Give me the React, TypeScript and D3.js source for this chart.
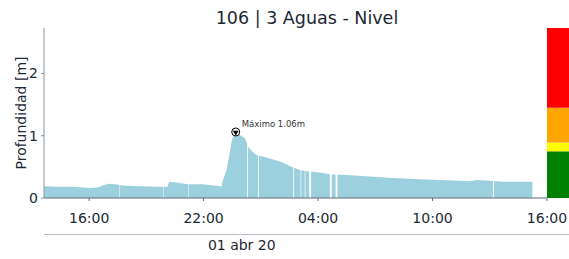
import React from "react";
import * as d3 from "d3";

const title = "106 | 3 Aguas - Nivel";
const yLabel = "Profundidad [m]";
const dateLabel = "01 abr 20";
const dateLabelTime = "2020-04-01 00:00";

const domainStart = "2020-03-31 13:38";
const domainEnd = "2020-04-01 16:00";

const times = [
  "2020-03-31 13:38", "2020-03-31 14:20", "2020-03-31 15:09", "2020-03-31 16:02",
  "2020-03-31 16:27", "2020-03-31 16:43", "2020-03-31 16:59", "2020-03-31 17:22",
  "2020-03-31 17:45", "2020-03-31 18:39", "2020-03-31 19:52", "2020-03-31 20:07",
  "2020-03-31 20:11", "2020-03-31 20:35", "2020-03-31 21:10", "2020-03-31 21:58",
  "2020-03-31 22:51", "2020-03-31 22:56", "2020-03-31 23:01", "2020-03-31 23:12",
  "2020-03-31 23:22", "2020-03-31 23:29", "2020-03-31 23:36", "2020-03-31 23:41",
  "2020-03-31 23:47", "2020-03-31 23:54", "2020-04-01 00:10", "2020-04-01 00:20",
  "2020-04-01 00:35", "2020-04-01 00:46", "2020-04-01 01:12", "2020-04-01 01:44",
  "2020-04-01 02:05", "2020-04-01 02:36", "2020-04-01 03:02", "2020-04-01 03:27",
  "2020-04-01 04:05", "2020-04-01 04:37", "2020-04-01 05:30", "2020-04-01 06:32",
  "2020-04-01 07:55", "2020-04-01 09:20", "2020-04-01 11:04", "2020-04-01 11:57",
  "2020-04-01 12:18", "2020-04-01 12:49", "2020-04-01 13:41", "2020-04-01 15:14",
];
const depth = [
  0.19, 0.18, 0.18, 0.16,
  0.17, 0.20, 0.23, 0.22,
  0.20, 0.19, 0.18, 0.18,
  0.26, 0.25, 0.22, 0.22,
  0.19, 0.18, 0.29, 0.45,
  0.72, 0.93, 1.03, 1.06,
  1.02, 1.01, 0.96, 0.82,
  0.74, 0.69, 0.66, 0.61,
  0.58, 0.50, 0.45, 0.43,
  0.41, 0.38, 0.37, 0.35,
  0.32, 0.30, 0.28, 0.27,
  0.29, 0.28, 0.26, 0.26,
];

// missing-data gaps: start time and duration in minutes
const gapTimes = [
  "2020-03-31 17:34", "2020-03-31 19:53", "2020-03-31 21:11", "2020-04-01 00:17",
  "2020-04-01 00:51", "2020-04-01 02:42", "2020-04-01 03:05", "2020-04-01 03:18",
  "2020-04-01 03:32", "2020-04-01 04:37", "2020-04-01 04:55", "2020-04-01 13:10",
];
const gapMinutes = [1.5, 1.5, 1.5, 2.5, 2.5, 2.5, 2, 2, 6, 6, 6, 3];

const xTickTimes = [
  "2020-03-31 16:00", "2020-03-31 22:00", "2020-04-01 04:00",
  "2020-04-01 10:00", "2020-04-01 16:00",
];
const yTicks = [0, 1, 2];
const yMax = 2.73;

const levelBreaks = [0, 0.75, 0.89, 1.45, yMax];
const levelColors = ["#008000", "#ffff00", "#ffa500", "#ff0000"];

const W = 569;
const H = 259;
const L = 44;
const R = 547;
const T = 28;
const B = 198;
const TEXT = "#1c2833";
const FONT = "DejaVu Sans, sans-serif";

const parse = d3.timeParse("%Y-%m-%d %H:%M");
const fmt = d3.timeFormat("%H:%M");

export default function App() {
  const x = d3.scaleTime().domain([parse(domainStart)!, parse(domainEnd)!]).range([L, R]);
  const y = d3.scaleLinear().domain([0, yMax]).range([B, T]);
  const data = times.map((t, i) => ({ t: parse(t)!, v: depth[i] }));
  const area = d3
    .area<{ t: Date; v: number }>()
    .x((d) => x(d.t))
    .y0(y(0))
    .y1((d) => y(d.v));
  const peak = data.reduce((a, b) => (b.v > a.v ? b : a));
  const px = x(peak.t);
  const py = y(peak.v);
  const tri = d3.symbol().type(d3.symbolTriangle).size(14)();

  return (
    <svg
      width={W}
      height={H}
      style={{ position: "absolute", left: 0, top: 0, background: "#fff" }}
      fontFamily={FONT}
    >
      <text x={307} y={24} textAnchor="middle" fontSize={17.5} fill={TEXT}>
        {title}
      </text>

      <path d={area(data)!} fill="#9dd0df" />
      {gapTimes.map((g, i) => {
        const t0 = parse(g)!;
        const x0 = x(t0);
        const x1 = x(new Date(t0.getTime() + gapMinutes[i] * 60000));
        return <rect key={i} x={x0} y={T} width={x1 - x0} height={B - T} fill="#fff" />;
      })}

      {levelColors.map((c, i) => (
        <rect
          key={c}
          x={R}
          y={y(levelBreaks[i + 1])}
          width={W - R}
          height={y(levelBreaks[i]) - y(levelBreaks[i + 1])}
          fill={c}
        />
      ))}

      <line x1={L} x2={L} y1={T} y2={B} stroke="#8a949e" strokeWidth={1} />
      <line x1={L} x2={R} y1={B} y2={B} stroke="#5d6d7e" strokeWidth={1.2} />

      {yTicks.map((v) => (
        <g key={v}>
          <line x1={L - 3} x2={L} y1={y(v)} y2={y(v)} stroke="#8a949e" />
          <text x={38} y={y(v)} dy="0.36em" textAnchor="end" fontSize={14} fill={TEXT}>
            {v}
          </text>
        </g>
      ))}
      <text
        transform={`translate(26,${(T + B) / 2}) rotate(-90)`}
        textAnchor="middle"
        fontSize={14}
        fill={TEXT}
      >
        {yLabel}
      </text>

      {xTickTimes.map((s) => {
        const t = parse(s)!;
        return (
          <g key={s}>
            <line x1={x(t)} x2={x(t)} y1={B} y2={B + 3} stroke="#5d6d7e" />
            <text x={x(t)} y={223} textAnchor="middle" fontSize={14} fill={TEXT}>
              {fmt(t)}
            </text>
          </g>
        );
      })}

      <line x1={L} x2={W} y1={234.5} y2={234.5} stroke="#b5bcc3" strokeWidth={1.2} />
      <text x={x(parse(dateLabelTime)!)} y={250} textAnchor="middle" fontSize={14} fill={TEXT}>
        {dateLabel}
      </text>

      <circle cx={px} cy={py} r={4} fill="#fff" stroke="#000" strokeWidth={1} />
      <path d={tri!} transform={`translate(${px},${py + 0.5}) rotate(180)`} fill="#000" />
      <text x={px + 6} y={py - 5} fontSize={8.5} fill="#333">
        {`Máximo ${peak.v.toFixed(2)}m`}
      </text>
    </svg>
  );
}
